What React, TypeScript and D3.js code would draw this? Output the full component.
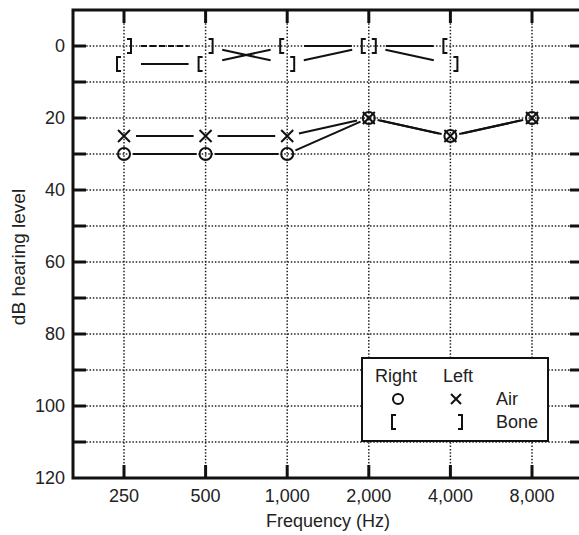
import React from 'react';
import * as d3 from 'd3';

// audiogram values (dB HL)
const freqs = [250, 500, 1000, 2000, 4000, 8000];
const freqLabels = ['250', '500', '1,000', '2,000', '4,000', '8,000'];
const rightAir = [30, 30, 30, 20, 25, 20];
const leftAir = [25, 25, 25, 20, 25, 20];
const boneFreqs = [250, 500, 1000, 2000, 4000];
const rightBone = [5, 5, 0, 0, 0];
const leftBone = [0, 0, 5, 0, 5];
const gridLevels = [0, 10, 20, 30, 40, 50, 60, 70, 80, 90, 100, 110];
const yTickLabels = [0, 20, 40, 60, 80, 100, 120];

const W = 579;
const H = 535;
const FONT = 'Liberation Sans, Arial, Helvetica, sans-serif';

const App = () => {
  const left = 73, right = 583, top = 10, bottom = 478;
  const x = d3.scaleLog().base(2).domain([250 / 2 ** 0.625, 8000 * 2 ** 0.625]).range([left, right]);
  const y = d3.scaleLinear().domain([-10, 120]).range([top, bottom]);

  // segment between two marker centers, trimmed so it doesn't run into the symbols
  const seg = (x1: number, y1: number, x2: number, y2: number, g1: number, g2: number, key: string, dash?: string) => {
    const dx = x2 - x1, dy = y2 - y1;
    const len = Math.sqrt(dx * dx + dy * dy);
    const ux = dx / len, uy = dy / len;
    return (
      <line key={key} x1={x1 + ux * g1} y1={y1 + uy * g1} x2={x2 - ux * g2} y2={y2 - uy * g2}
        stroke="#111" strokeWidth={2} strokeDasharray={dash} />
    );
  };

  const series = (fs: number[], vals: number[], gap: number, name: string, dashFirst = false) =>
    vals.slice(1).map((v, i) =>
      seg(x(fs[i]), y(vals[i]), x(fs[i + 1]), y(v), gap, gap, `${name}-${i}`, dashFirst && i === 0 ? '6 3' : undefined));

  const circle = (cx: number, cy: number, key: string, r = 6) => (
    <circle key={key} cx={cx} cy={cy} r={r} fill="none" stroke="#111" strokeWidth={2} />
  );
  const cross = (cx: number, cy: number, key: string, s = 6) => (
    <path key={key} d={`M${cx - s},${cy - s}L${cx + s},${cy + s}M${cx - s},${cy + s}L${cx + s},${cy - s}`}
      stroke="#111" strokeWidth={2} fill="none" />
  );
  const openBracket = (cx: number, cy: number, key: string) => (
    <path key={key} d={`M${cx - 3},${cy - 7}H${cx - 7}V${cy + 7}H${cx - 3}`} stroke="#111" strokeWidth={2} fill="none" />
  );
  const closeBracket = (cx: number, cy: number, key: string) => (
    <path key={key} d={`M${cx + 3},${cy - 7}H${cx + 7}V${cy + 7}H${cx + 3}`} stroke="#111" strokeWidth={2} fill="none" />
  );

  return (
    <svg width={W} height={H} style={{ position: 'absolute', left: 0, top: 0, background: '#fff' }}
      fontFamily={FONT}>
      {/* dotted grid */}
      <g stroke="#222" strokeWidth={1.5} strokeDasharray="1.5 1.8">
        {gridLevels.map(v => <line key={`h${v}`} x1={left} x2={right} y1={y(v)} y2={y(v)} />)}
        {freqs.map(f => <line key={`v${f}`} x1={x(f)} x2={x(f)} y1={top} y2={bottom} />)}
      </g>

      {/* frame and ticks */}
      <rect x={left} y={top} width={right - left} height={bottom - top} fill="none" stroke="#111" strokeWidth={3} />
      <g stroke="#111" strokeWidth={3}>
        {gridLevels.map(v => <line key={`lt${v}`} x1={left} x2={left + 13} y1={y(v)} y2={y(v)} />)}
        {gridLevels.map(v => <line key={`rt${v}`} x1={right - 13} x2={right} y1={y(v)} y2={y(v)} />)}
        {freqs.map(f => <line key={`tt${f}`} x1={x(f)} x2={x(f)} y1={top} y2={top + 13} />)}
        {freqs.map(f => <line key={`bt${f}`} x1={x(f)} x2={x(f)} y1={bottom - 13} y2={bottom} />)}
      </g>

      {/* tick labels */}
      <g fontSize={18} fill="#222">
        {yTickLabels.map(v => (
          <text key={`yl${v}`} x={65} y={y(v)} dy="0.35em" textAnchor="end">{v}</text>
        ))}
        {freqs.map((f, i) => (
          <text key={`xl${f}`} x={x(f)} y={502} textAnchor="middle">{freqLabels[i]}</text>
        ))}
      </g>
      <text x={(left + right) / 2} y={527} textAnchor="middle" fontSize={18} fill="#222">Frequency (Hz)</text>
      <text transform={`translate(25,257) rotate(-90)`} textAnchor="middle" fontSize={19} fill="#222">dB hearing level</text>

      {/* connecting lines */}
      {series(freqs, rightAir, 9, 'ra')}
      {series(freqs, leftAir, 12, 'la')}
      {series(boneFreqs, rightBone, 17, 'rb')}
      {series(boneFreqs, leftBone, 17, 'lb', true)}

      {/* symbols */}
      {rightAir.map((v, i) => circle(x(freqs[i]), y(v), `c${i}`))}
      {leftAir.map((v, i) => cross(x(freqs[i]), y(v), `x${i}`))}
      {rightBone.map((v, i) => openBracket(x(boneFreqs[i]), y(v), `ob${i}`))}
      {leftBone.map((v, i) => closeBracket(x(boneFreqs[i]), y(v), `cb${i}`))}

      {/* legend */}
      <g>
        <rect x={362} y={358} width={186} height={83} fill="#fff" stroke="#111" strokeWidth={2} />
        <g fontSize={18} fill="#222">
          <text x={375} y={382}>Right</text>
          <text x={443} y={382}>Left</text>
          <text x={496} y={405}>Air</text>
          <text x={496} y={428}>Bone</text>
        </g>
        {circle(398, 399, 'lgc', 5)}
        {cross(456, 399, 'lgx', 5)}
        {openBracket(399, 422, 'lgo')}
        {closeBracket(455, 422, 'lgb')}
      </g>
    </svg>
  );
};

export default App;
